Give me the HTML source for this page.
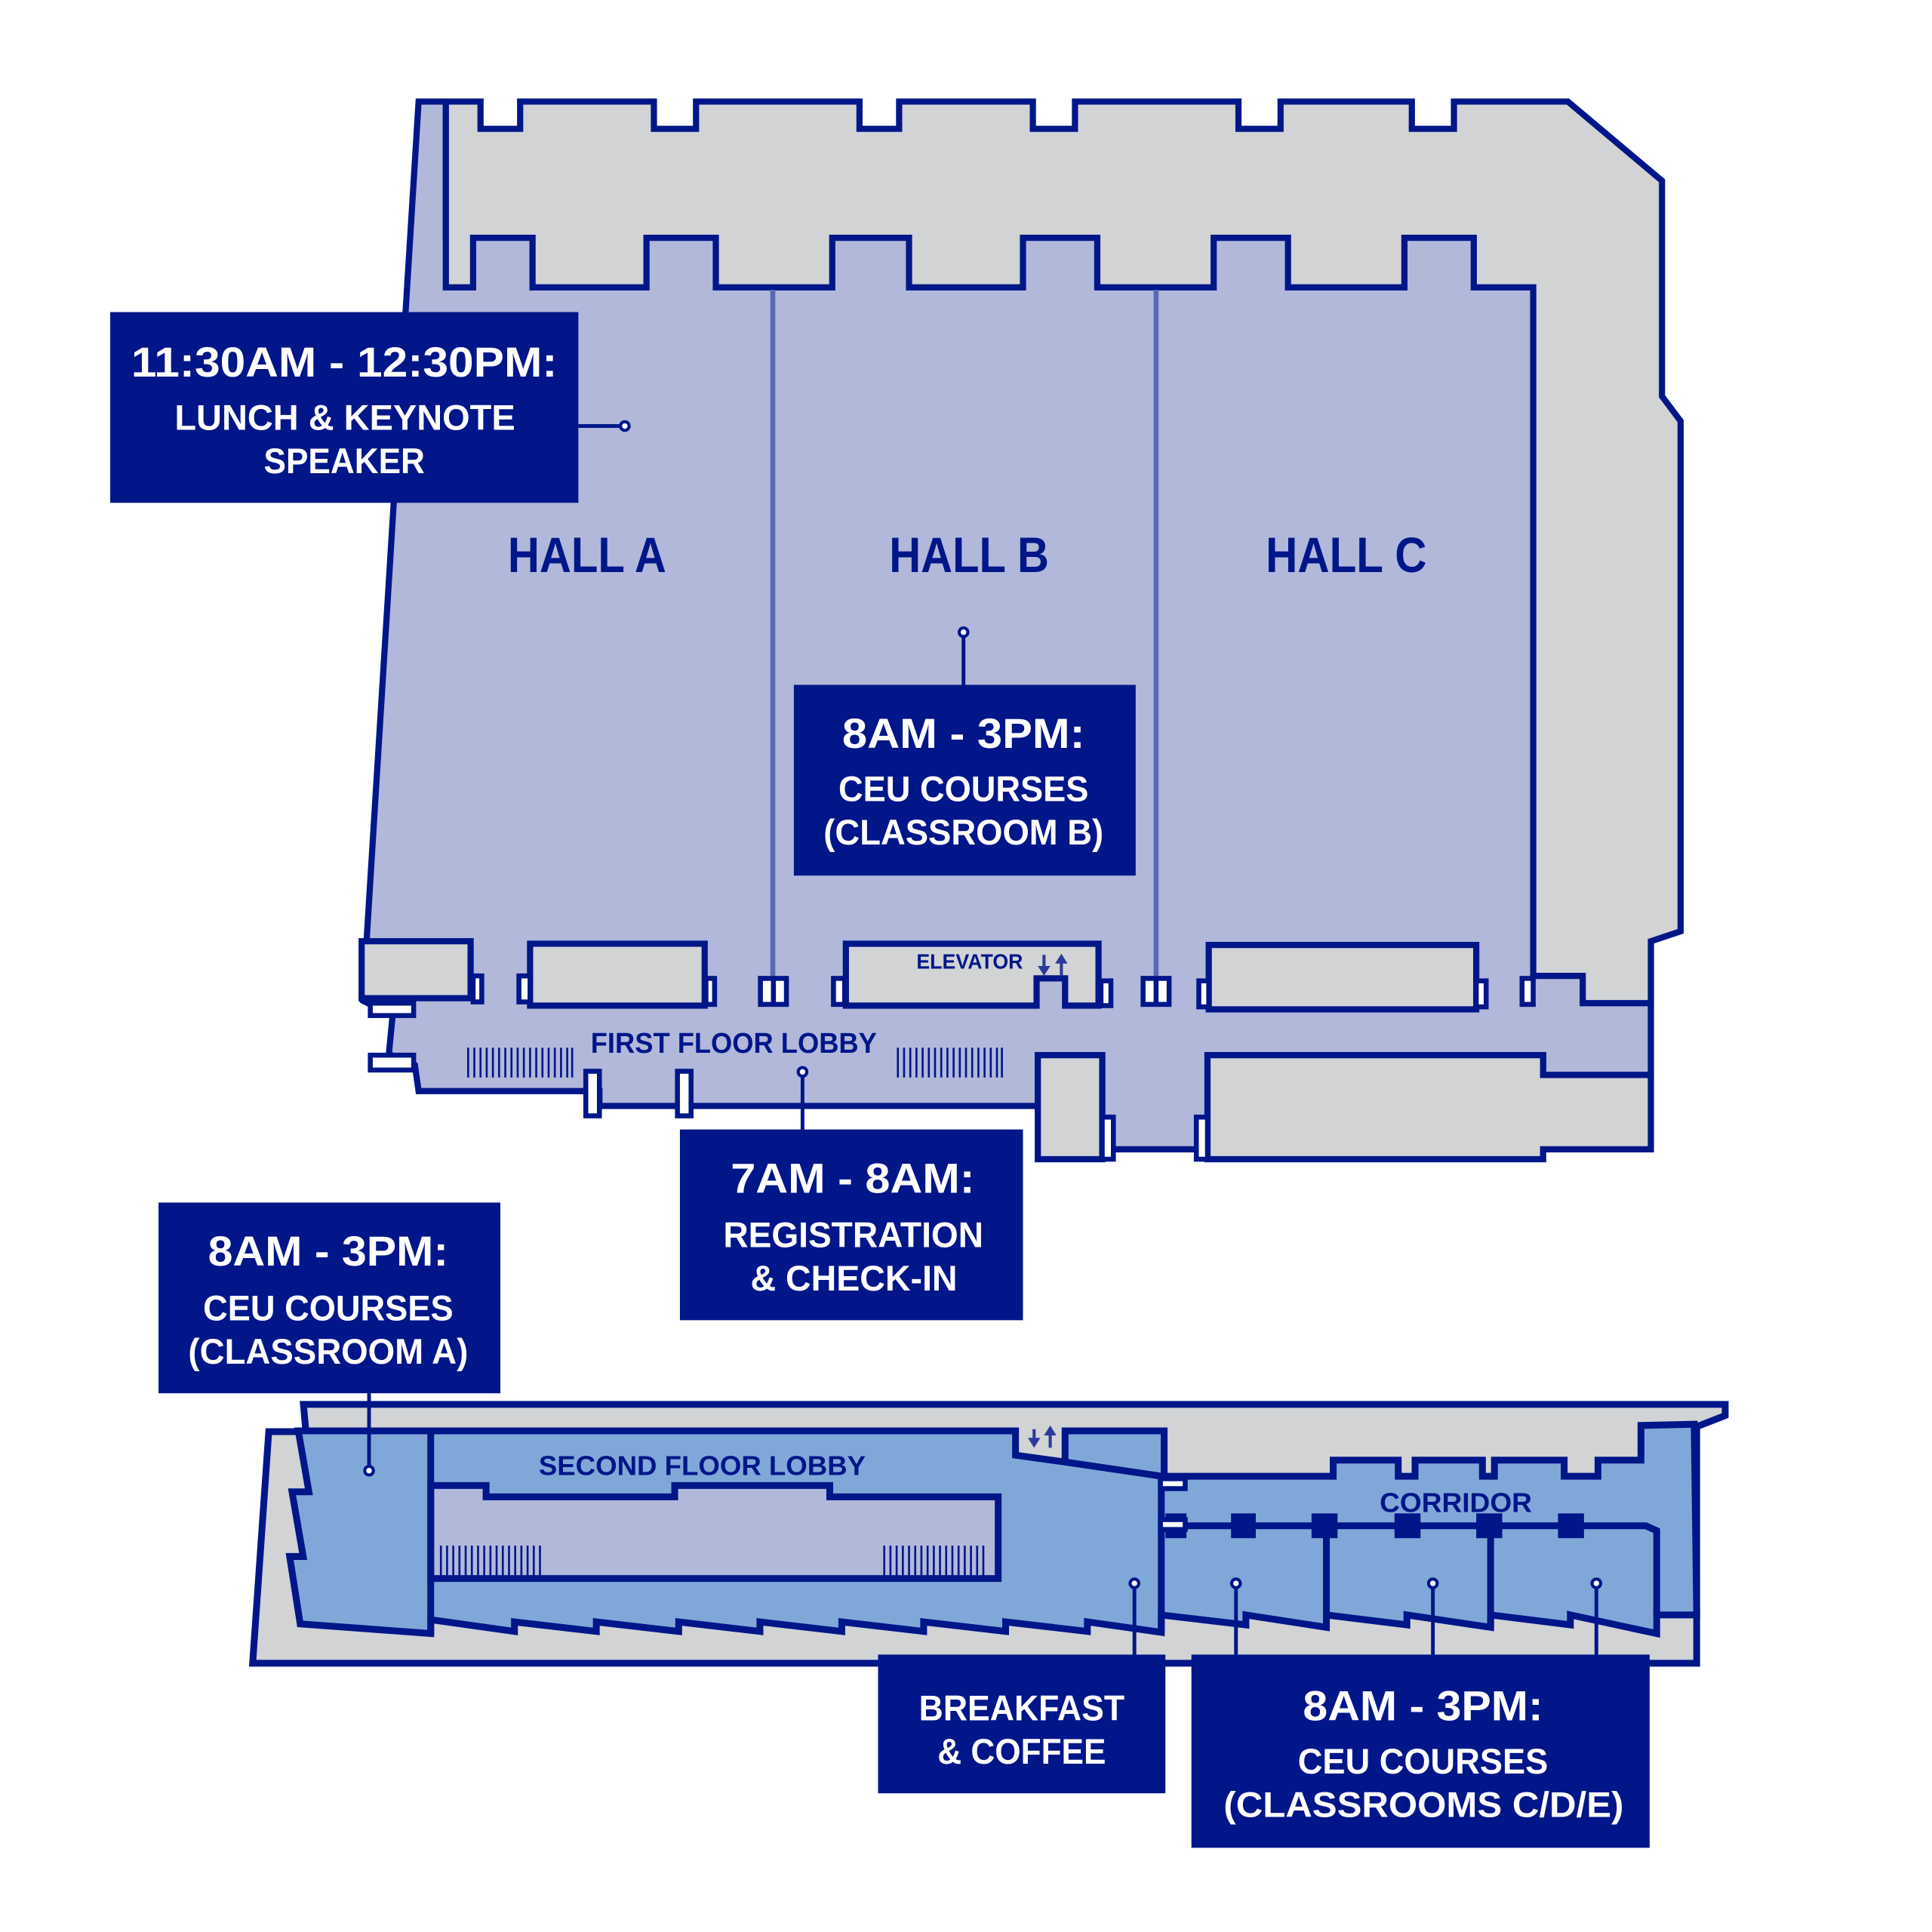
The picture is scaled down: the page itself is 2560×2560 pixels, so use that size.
<!DOCTYPE html>
<html><head><meta charset="utf-8"><style>
html,body{margin:0;padding:0;background:#fff;}
svg{display:block;}
.h{font-family:"Liberation Sans",sans-serif;font-weight:bold;fill:#fff;}
.b{font-family:"Liberation Sans",sans-serif;font-weight:bold;fill:#fff;}
.l{font-family:"Liberation Sans",sans-serif;font-weight:bold;fill:#001689;}
</style></head><body>
<svg width="2560" height="2560" viewBox="0 0 1560 1560" xmlns="http://www.w3.org/2000/svg">
<rect width="1560" height="1560" fill="#fff"/>
<g stroke="#001689" stroke-width="5" stroke-linejoin="miter">
<!-- FIRST FLOOR lavender -->
<path fill="#b1b8da" d="M338,82 L360,82 L360,192 L1333,192 L1333,868 L1246,868 L1246,852 L975,852 L975,928 L890,928 L890,852 L838,852 L838,893 L484,893 L484,881 L338,881 L335,860 L314,851 L317,820 L293,808 Z"/>
<!-- top gray -->
<path fill="#d1d3d5" d="M360,82 L388,82 L388,104 L420,104 L420,82 L528,82 L528,104 L562,104 L562,82 L694,82 L694,104 L726,104 L726,82 L834,82 L834,104 L868,104 L868,82 L1000,82 L1000,104 L1034,104 L1034,82 L1140,82 L1140,104 L1174,104 L1174,82 L1266,82 L1342,146 L1342,320 L1357,340 L1357,752 L1333,760 L1333,810 L1278,810 L1278,788 L1238,788 L1238,232 L1190,232 L1190,192 L1134,192 L1134,232 L1040,232 L1040,192 L980,192 L980,232 L886,232 L886,192 L826,192 L826,232 L734,232 L734,192 L672,192 L672,232 L578,232 L578,192 L522,192 L522,232 L430,232 L430,192 L382,192 L382,232 L360,232 Z"/>
</g>
<g stroke="#5769b3" stroke-width="4"><line x1="624" y1="234" x2="624" y2="790"/><line x1="933.5" y1="234" x2="933.5" y2="790"/></g>
<g stroke="#001689" stroke-width="5" fill="#d1d3d5">
<rect x="292" y="760" width="88" height="46"/>
<rect x="428" y="762" width="141" height="50"/>
<path d="M683,762 L887,762 L887,812 L860,812 L860,790 L837,790 L837,812 L683,812 Z"/>
<rect x="976" y="763" width="216" height="52"/>
<rect x="838" y="852" width="52" height="84"/>
<path d="M975,852 L1246,852 L1246,868 L1333,868 L1333,928 L1246,928 L1246,936 L975,936 Z"/>
</g>
<g stroke="#001689" stroke-width="4" fill="#fff">
<rect x="382" y="788" width="7" height="21"/>
<rect x="419" y="788" width="9" height="21"/>
<rect x="570" y="790" width="7" height="21"/>
<rect x="614" y="790" width="21" height="21"/>
<line x1="624.5" y1="790" x2="624.5" y2="811"/>
<rect x="673" y="790" width="9" height="21"/>
<rect x="889" y="792" width="8" height="20"/>
<rect x="923" y="790" width="21" height="21"/>
<line x1="933.5" y1="790" x2="933.5" y2="811"/>
<rect x="968" y="792" width="8" height="21"/>
<rect x="1192" y="792" width="8" height="21"/>
<rect x="1229" y="790" width="9" height="21"/>
<rect x="299" y="810" width="35" height="10"/>
<rect x="299" y="852" width="35" height="12"/>
<rect x="473" y="865" width="11" height="36"/>
<rect x="547" y="865" width="11" height="36"/>
<rect x="890" y="902" width="9" height="34"/>
<rect x="966" y="902" width="9" height="34"/>
</g>
<!-- hatches -->
<g stroke="#001689" stroke-width="1.6">
<path d="M378,846V870M383,846V870M388,846V870M393,846V870M398,846V870M403,846V870M408,846V870M413,846V870M418,846V870M423,846V870M428,846V870M433,846V870M438,846V870M443,846V870M448,846V870M453,846V870M458,846V870M462,846V870"/>
<path d="M725,846V870M730,846V870M735,846V870M740,846V870M745,846V870M750,846V870M755,846V870M760,846V870M765,846V870M770,846V870M775,846V870M780,846V870M785,846V870M790,846V870M795,846V870M800,846V870M805,846V870M809,846V870"/>
</g>
<text class="l" x="477" y="850" font-size="23" textLength="231" lengthAdjust="spacingAndGlyphs">FIRST FLOOR LOBBY</text>
<text class="l" x="740" y="782" font-size="17" textLength="86" lengthAdjust="spacingAndGlyphs">ELEVATOR</text>
<g fill="#2b3a9a" stroke="#2b3a9a" stroke-width="2.5"><line x1="843" y1="771" x2="843" y2="782"/><path d="M838,780 L848,780 L843,788 Z" stroke="none"/><line x1="857" y1="776" x2="857" y2="788"/><path d="M852,778 L862,778 L857,770 Z" stroke="none"/></g>
<text class="l" x="410" y="462" font-size="40" textLength="128" lengthAdjust="spacingAndGlyphs">HALL A</text>
<text class="l" x="718" y="462" font-size="40" textLength="129" lengthAdjust="spacingAndGlyphs">HALL B</text>
<text class="l" x="1022" y="462" font-size="40" textLength="130" lengthAdjust="spacingAndGlyphs">HALL C</text>

<!-- SECOND FLOOR -->
<g stroke="#001689" stroke-width="5.5" stroke-linejoin="miter">
<path fill="#d1d3d5" d="M245,1134 L1393,1134 L1393,1143 L1370,1152 L1370,1343 L204,1343 L217,1156 L247,1156 Z"/>
<path fill="#7fa8d9" d="M240.9,1155.4 L820,1155.4 L820,1175 L860,1180.5 L860,1155.4 L940,1155.4 L940,1192 L1076.5,1192 L1076.5,1179 L1129,1179 L1129,1192 L1142.6,1192 L1142.6,1179 L1197,1179 L1197,1192 L1206.7,1192 L1206.7,1179 L1263,1179 L1263,1192 L1290.3,1192 L1290.3,1179 L1325,1179 L1325,1151 L1368,1150 L1370,1304 L1337.7,1304 L1337.7,1319 L1268,1304 L1268,1312 L1203.6,1304 L1203.6,1314 L1136,1304 L1136,1312 L1071,1304 L1071,1314 L1006,1304 L1006,1312 L937.7,1304 L937.7,1318 L878,1309.6 L878,1317.3 L812,1309.6 L812,1317.3 L745.8,1309.6 L745.8,1317.3 L679.7,1309.6 L679.7,1317.3 L613.6,1309.6 L613.6,1317.3 L548,1309.6 L548,1317.3 L481.5,1309.6 L481.5,1317.3 L415.4,1309.6 L415.4,1317.3 L347.8,1307.8 L347.8,1319 L242.4,1311.2 L233.9,1256.8 L244.8,1256.8 L235.8,1204.6 L249.4,1204.6 Z"/>
<path fill="#b1b8da" d="M347.8,1199.5 L392.5,1199.5 L392.5,1208.6 L544.8,1208.6 L544.8,1199.5 L670,1199.5 L670,1208.6 L806,1208.6 L806,1274.6 L347.8,1274.6 Z"/>
<line x1="347.8" y1="1155" x2="347.8" y2="1319" fill="none"/>
<line x1="860" y1="1180.5" x2="938" y2="1192" fill="none"/>
<path fill="none" d="M940,1232 L1329,1232 L1337.7,1236 L1337.7,1304"/>
<line x1="937.7" y1="1192" x2="937.7" y2="1318"/>
<line x1="1071" y1="1232" x2="1071" y2="1314"/>
<line x1="1203.6" y1="1232" x2="1203.6" y2="1314"/>
</g>
<g fill="#001689">
<rect x="941" y="1222" width="17" height="20"/><rect x="994" y="1222" width="20" height="20"/><rect x="1059" y="1222" width="21" height="20"/><rect x="1126" y="1222" width="21" height="20"/><rect x="1192" y="1222" width="21" height="20"/><rect x="1258" y="1222" width="21" height="20"/>
</g>
<g stroke="#001689" stroke-width="4" fill="#fff"><rect x="937" y="1194" width="20" height="8"/><rect x="937" y="1227" width="20" height="8"/></g>
<g stroke="#001689" stroke-width="1.6">
<path d="M356,1248V1272M361,1248V1272M366,1248V1272M371,1248V1272M376,1248V1272M381,1248V1272M386,1248V1272M391,1248V1272M396,1248V1272M401,1248V1272M406,1248V1272M411,1248V1272M416,1248V1272M421,1248V1272M426,1248V1272M431,1248V1272M436,1248V1272"/>
<path d="M714,1248V1272M719,1248V1272M724,1248V1272M729,1248V1272M734,1248V1272M739,1248V1272M744,1248V1272M749,1248V1272M754,1248V1272M759,1248V1272M764,1248V1272M769,1248V1272M774,1248V1272M779,1248V1272M784,1248V1272M789,1248V1272M794,1248V1272"/>
</g>
<g fill="#2b3a9a" stroke="#2b3a9a" stroke-width="2.5"><line x1="835" y1="1154" x2="835" y2="1163"/><path d="M830,1161 L840,1161 L835,1169 Z" stroke="none"/><line x1="848" y1="1158" x2="848" y2="1169"/><path d="M843,1159 L853,1159 L848,1151 Z" stroke="none"/></g>
<text class="l" x="435" y="1191" font-size="22" textLength="264" lengthAdjust="spacingAndGlyphs">SECOND FLOOR LOBBY</text>
<text class="l" x="1114" y="1221" font-size="22" textLength="123" lengthAdjust="spacingAndGlyphs">CORRIDOR</text>

<!-- connectors -->
<g stroke="#001689" stroke-width="3" fill="none">
<line x1="467" y1="344" x2="501" y2="344"/>
<line x1="778" y1="514" x2="778" y2="553"/>
<line x1="648" y1="869" x2="648" y2="912"/>
<line x1="298" y1="1125" x2="298" y2="1184"/>
<line x1="916" y1="1282" x2="916" y2="1338"/>
<line x1="998" y1="1282" x2="998" y2="1338"/>
<line x1="1157" y1="1282" x2="1157" y2="1338"/>
<line x1="1289" y1="1282" x2="1289" y2="1338"/>
</g>
<g stroke="#001689" stroke-width="2.5" fill="#fff">
<circle cx="504.5" cy="344" r="3.5"/><circle cx="778" cy="510.5" r="3.5"/><circle cx="648" cy="865.5" r="3.5"/><circle cx="298" cy="1187.5" r="3.5"/>
<circle cx="916" cy="1278.5" r="3.5"/><circle cx="998" cy="1278.5" r="3.5"/><circle cx="1157" cy="1278.5" r="3.5"/><circle cx="1289" cy="1278.5" r="3.5"/>
</g>

<!-- label boxes -->
<g fill="#001689">
<rect x="89" y="252" width="378" height="154"/>
<rect x="641" y="553" width="276" height="154"/>
<rect x="549" y="912" width="277" height="154"/>
<rect x="128" y="971" width="276" height="154"/>
<rect x="709" y="1336" width="232" height="112"/>
<rect x="962" y="1336" width="370" height="156"/>
</g>
<text class="h" x="106" y="304" font-size="34" textLength="344" lengthAdjust="spacingAndGlyphs">11:30AM - 12:30PM:</text>
<text class="b" x="141" y="347" font-size="29" textLength="275" lengthAdjust="spacingAndGlyphs">LUNCH &amp; KEYNOTE</text>
<text class="b" x="213" y="382" font-size="29" textLength="130" lengthAdjust="spacingAndGlyphs">SPEAKER</text>

<text class="h" x="680" y="604" font-size="34" textLength="196" lengthAdjust="spacingAndGlyphs">8AM - 3PM:</text>
<text class="b" x="677" y="647" font-size="29" textLength="202" lengthAdjust="spacingAndGlyphs">CEU COURSES</text>
<text class="b" x="665" y="682" font-size="29" textLength="226" lengthAdjust="spacingAndGlyphs">(CLASSROOM B)</text>

<text class="h" x="590" y="963" font-size="34" textLength="197" lengthAdjust="spacingAndGlyphs">7AM - 8AM:</text>
<text class="b" x="584" y="1007" font-size="29" textLength="210" lengthAdjust="spacingAndGlyphs">REGISTRATION</text>
<text class="b" x="606" y="1042" font-size="29" textLength="167" lengthAdjust="spacingAndGlyphs">&amp; CHECK-IN</text>

<text class="h" x="168" y="1022" font-size="34" textLength="194" lengthAdjust="spacingAndGlyphs">8AM - 3PM:</text>
<text class="b" x="164" y="1066" font-size="29" textLength="202" lengthAdjust="spacingAndGlyphs">CEU COURSES</text>
<text class="b" x="152" y="1101" font-size="29" textLength="226" lengthAdjust="spacingAndGlyphs">(CLASSROOM A)</text>

<text class="b" x="742" y="1389" font-size="29" textLength="166" lengthAdjust="spacingAndGlyphs">BREAKFAST</text>
<text class="b" x="757" y="1424" font-size="29" textLength="136" lengthAdjust="spacingAndGlyphs">&amp; COFFEE</text>

<text class="h" x="1052" y="1389" font-size="34" textLength="194" lengthAdjust="spacingAndGlyphs">8AM - 3PM:</text>
<text class="b" x="1048" y="1432" font-size="29" textLength="202" lengthAdjust="spacingAndGlyphs">CEU COURSES</text>
<text class="b" x="988" y="1467" font-size="29" textLength="323" lengthAdjust="spacingAndGlyphs">(CLASSROOMS C/D/E)</text>
</svg>
</body></html>
